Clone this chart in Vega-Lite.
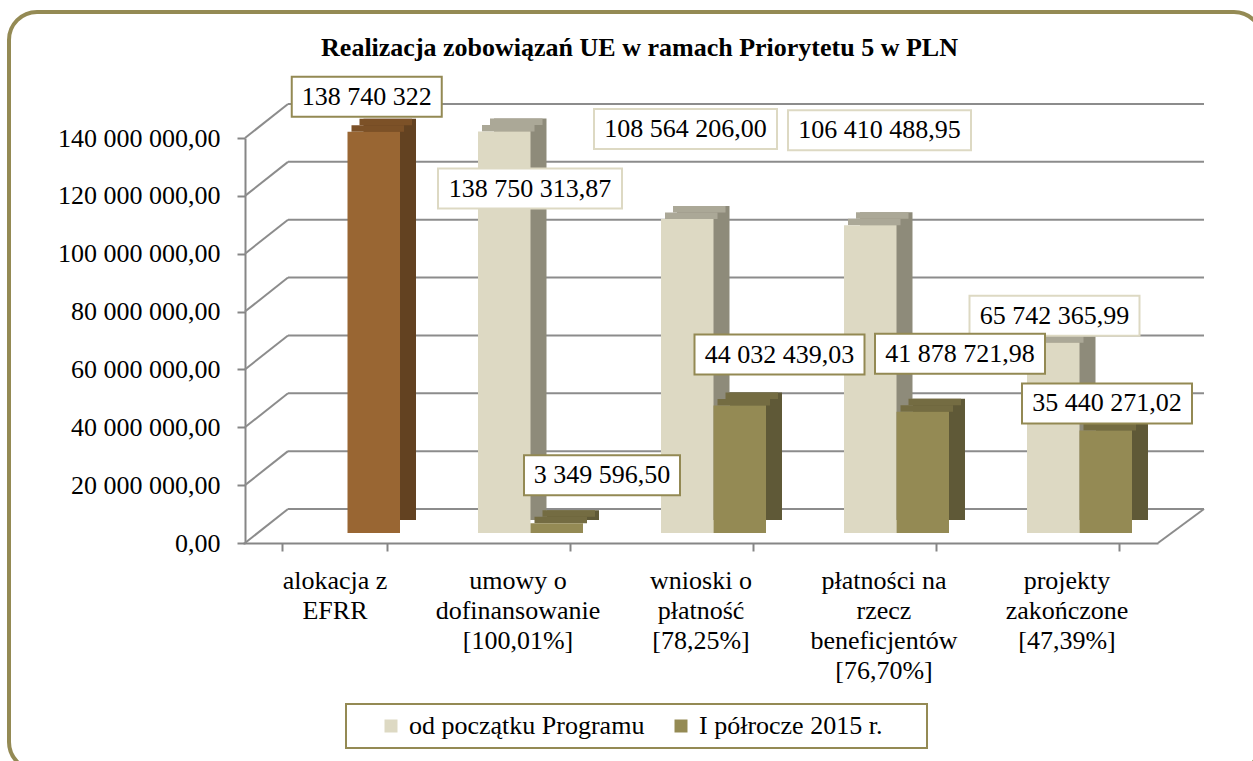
{
  "$schema": "https://vega.github.io/schema/vega-lite/v6.json",
  "width": 1253,
  "height": 758,
  "autosize": {"type": "none"},
  "padding": {"left": 9, "top": 12, "right": -9, "bottom": -9},
  "background": "white",
  "title": {
    "text": "Realizacja zobowiązań UE w ramach Priorytetu 5 w PLN",
    "frame": "group",
    "anchor": "middle",
    "offset": -70,
    "baseline": "alphabetic",
    "dx": 4,
    "font": "Liberation Serif",
    "fontSize": 26,
    "fontWeight": "bold",
    "color": "black"
  },
  "datasets": {
    "siatka": [
      {"v": 0}, {"v": 20000000}, {"v": 40000000}, {"v": 60000000},
      {"v": 80000000}, {"v": 100000000}, {"v": 120000000}, {"v": 140000000}
    ]
  },
  "data": {
    "values": [
      {"kategoria": "alokacja z\nEFRR", "seria": "alokacja z EFRR", "wartosc": 138740322},
      {"kategoria": "umowy o\ndofinansowanie\n[100,01%]", "seria": "od początku Programu", "wartosc": 138750313.87},
      {"kategoria": "umowy o\ndofinansowanie\n[100,01%]", "seria": "I półrocze 2015 r.", "wartosc": 3349596.5},
      {"kategoria": "wnioski o\npłatność\n[78,25%]", "seria": "od początku Programu", "wartosc": 108564206.0},
      {"kategoria": "wnioski o\npłatność\n[78,25%]", "seria": "I półrocze 2015 r.", "wartosc": 44032439.03},
      {"kategoria": "płatności na\nrzecz\nbeneficjentów\n[76,70%]", "seria": "od początku Programu", "wartosc": 106410488.95},
      {"kategoria": "płatności na\nrzecz\nbeneficjentów\n[76,70%]", "seria": "I półrocze 2015 r.", "wartosc": 41878721.98},
      {"kategoria": "projekty\nzakończone\n[47,39%]", "seria": "od początku Programu", "wartosc": 65742365.99},
      {"kategoria": "projekty\nzakończone\n[47,39%]", "seria": "I półrocze 2015 r.", "wartosc": 35440271.02}
    ]
  },
  "layer": [
    {
      "data": {"name": "siatka"},
      "mark": {"type": "rule", "color": "#8c8c8c", "strokeWidth": 2, "xOffset": -59.5, "x2Offset": 124.5, "yOffset": -24},
      "encoding": {
        "x": {
          "datum": "alokacja z\nEFRR", "type": "nominal",
          "scale": {
            "type": "band",
            "domain": ["alokacja z\nEFRR", "umowy o\ndofinansowanie\n[100,01%]", "wnioski o\npłatność\n[78,25%]", "płatności na\nrzecz\nbeneficjentów\n[76,70%]", "projekty\nzakończone\n[47,39%]"],
            "range": [247, 1162],
            "paddingInner": 0.426,
            "paddingOuter": 0.213
          },
          "axis": {
            "title": null, "orient": "bottom", "offset": -227, "position": -13,
            "tickBand": "extent", "tickSize": 8, "tickColor": "#868686", "tickWidth": 2,
            "domainColor": "#868686", "domainWidth": 2,
            "labelExpr": "split(datum.label, '\\n')",
            "labelFont": "Liberation Serif", "labelFontSize": 26, "labelColor": "black",
            "labelPadding": 16, "labelLineHeight": 30, "labelAngle": 0, "labelLimit": 0, "labelOverlap": false
          }
        },
        "x2": {"datum": "projekty\nzakończone\n[47,39%]"},
        "y": {
          "field": "v", "type": "quantitative",
          "scale": {"domain": [0, 140000000], "range": [521, 116], "nice": false, "zero": true},
          "axis": {
            "title": null, "orient": "left", "offset": -236, "position": 10,
            "values": [0, 20000000, 40000000, 60000000, 80000000, 100000000, 120000000, 140000000],
            "format": ",.2f", "grid": false,
            "domainColor": "#868686", "domainWidth": 2,
            "tickColor": "#868686", "tickWidth": 2, "tickSize": 8,
            "labelFont": "Liberation Serif", "labelFontSize": 26, "labelColor": "black",
            "labelPadding": 17, "labelOverlap": false, "labelFlush": false
          }
        }
      }
    },
    {
      "data": {"name": "siatka"},
      "mark": {"type": "rule", "color": "#8c8c8c", "strokeWidth": 2, "xOffset": -102.5, "x2Offset": -59.5, "yOffset": 10, "y2Offset": -24},
      "encoding": {
        "x": {"datum": "alokacja z\nEFRR", "type": "nominal"},
        "x2": {"datum": "alokacja z\nEFRR"},
        "y": {"field": "v", "type": "quantitative"},
        "y2": {"field": "v"}
      }
    },
    {
      "data": {"name": "siatka"},
      "transform": [{"filter": "datum.v === 0"}],
      "mark": {"type": "rule", "color": "#8c8c8c", "strokeWidth": 2, "xOffset": 78.5, "x2Offset": 124.5, "yOffset": 10, "y2Offset": -24},
      "encoding": {
        "x": {"datum": "projekty\nzakończone\n[47,39%]", "type": "nominal"},
        "x2": {"datum": "projekty\nzakończone\n[47,39%]"},
        "y": {"field": "v", "type": "quantitative"},
        "y2": {"field": "v"}
      }
    },
    {
      "transform": [{"filter": {"field": "seria", "equal": "od początku Programu"}}],
      "mark": {"type": "bar", "width": 52.5, "xOffset": -10.25, "yOffset": -13, "y2Offset": -13, "color": "#8e8b7a"},
      "encoding": {
        "x": {"field": "kategoria", "type": "nominal"},
        "y": {"field": "wartosc", "type": "quantitative"},
        "y2": {"datum": 0}
      }
    },
    {
      "transform": [{"filter": {"field": "seria", "oneOf": ["I półrocze 2015 r.", "alokacja z EFRR"]}}],
      "mark": {"type": "bar", "width": 52.5, "xOffset": 42.25, "yOffset": -13, "y2Offset": -13},
      "encoding": {
        "x": {"field": "kategoria", "type": "nominal"},
        "y": {"field": "wartosc", "type": "quantitative"},
        "y2": {"datum": 0},
        "color": {"condition": {"test": "datum.seria === 'alokacja z EFRR'", "value": "#634221"}, "value": "#5f5937"}
      }
    },
    {
      "transform": [{"filter": {"field": "seria", "equal": "od początku Programu"}}],
      "mark": {"type": "bar", "width": 52.5, "xOffset": -14.25, "yOffset": -13, "y2Offset": -6.5, "color": "#aba897"},
      "encoding": {
        "x": {"field": "kategoria", "type": "nominal"},
        "y": {"field": "wartosc", "type": "quantitative"},
        "y2": {"field": "wartosc"}
      }
    },
    {
      "transform": [{"filter": {"field": "seria", "equal": "od początku Programu"}}],
      "mark": {"type": "bar", "width": 52.5, "xOffset": -22.25, "yOffset": -6.5, "y2Offset": 0, "color": "#aba897"},
      "encoding": {
        "x": {"field": "kategoria", "type": "nominal"},
        "y": {"field": "wartosc", "type": "quantitative"},
        "y2": {"field": "wartosc"}
      }
    },
    {
      "transform": [{"filter": {"field": "seria", "oneOf": ["I półrocze 2015 r.", "alokacja z EFRR"]}}],
      "mark": {"type": "bar", "width": 52.5, "xOffset": 38.25, "yOffset": -13, "y2Offset": -6.5},
      "encoding": {
        "x": {"field": "kategoria", "type": "nominal"},
        "y": {"field": "wartosc", "type": "quantitative"},
        "y2": {"field": "wartosc"},
        "color": {"condition": {"test": "datum.seria === 'alokacja z EFRR'", "value": "#7c5127"}, "value": "#746c42"}
      }
    },
    {
      "transform": [{"filter": {"field": "seria", "oneOf": ["I półrocze 2015 r.", "alokacja z EFRR"]}}],
      "mark": {"type": "bar", "width": 52.5, "xOffset": 30.25, "yOffset": -6.5, "y2Offset": 0},
      "encoding": {
        "x": {"field": "kategoria", "type": "nominal"},
        "y": {"field": "wartosc", "type": "quantitative"},
        "y2": {"field": "wartosc"},
        "color": {"condition": {"test": "datum.seria === 'alokacja z EFRR'", "value": "#7c5127"}, "value": "#746c42"}
      }
    },
    {
      "transform": [{"filter": {"field": "seria", "equal": "od początku Programu"}}],
      "mark": {"type": "bar", "width": 52.5, "xOffset": -26.25},
      "encoding": {
        "x": {"field": "kategoria", "type": "nominal"},
        "y": {"field": "wartosc", "type": "quantitative"},
        "y2": {"datum": 0},
        "color": {
          "field": "seria", "type": "nominal",
          "scale": {"domain": ["od początku Programu", "I półrocze 2015 r."], "range": ["#DDD9C3", "#948A54"]},
          "legend": {
            "title": "\u00a0", "titleOrient": "right", "titlePadding": 36,
            "titleFont": "Liberation Serif", "titleFontSize": 26, "titleFontWeight": "normal",
            "orient": "none", "legendX": 337, "legendY": 692,
            "direction": "horizontal", "columns": 2,
            "symbolType": "square", "symbolSize": 169, "symbolStrokeWidth": 0,
            "labelFont": "Liberation Serif", "labelFontSize": 26, "labelColor": "black", "labelLimit": 0,
            "symbolOffset": 23, "labelOffset": 5, "columnPadding": -13, "padding": 9,
            "strokeColor": "#948A54", "fillColor": "white"
          }
        }
      }
    },
    {
      "transform": [{"filter": {"field": "seria", "equal": "I półrocze 2015 r."}}],
      "mark": {"type": "bar", "width": 52.5, "xOffset": 26.25},
      "encoding": {
        "x": {"field": "kategoria", "type": "nominal"},
        "y": {"field": "wartosc", "type": "quantitative"},
        "y2": {"datum": 0},
        "color": {"field": "seria", "type": "nominal"}
      }
    },
    {
      "transform": [{"filter": {"field": "seria", "equal": "alokacja z EFRR"}}],
      "mark": {"type": "bar", "width": 52.5, "xOffset": 26.25, "color": "#996633"},
      "encoding": {
        "x": {"field": "kategoria", "type": "nominal"},
        "y": {"field": "wartosc", "type": "quantitative"},
        "y2": {"datum": 0}
      }
    },
    {
      "transform": [{"filter": {"field": "wartosc", "equal": 138740322}}],
      "mark": {"type": "bar", "width": 150, "xOffset": 19.25, "yOffset": -55, "y2Offset": -15, "fill": "white", "stroke": "#938953", "strokeWidth": 2},
      "encoding": {"x": {"field": "kategoria", "type": "nominal"}, "y": {"field": "wartosc", "type": "quantitative"}, "y2": {"field": "wartosc"}}
    },
    {
      "transform": [{"filter": {"field": "wartosc", "equal": 138740322}}],
      "mark": {"type": "text", "xOffset": 19.25, "yOffset": -35, "font": "Liberation Serif", "fontSize": 26, "baseline": "middle", "align": "center", "color": "black"},
      "encoding": {"x": {"field": "kategoria", "type": "nominal"}, "y": {"field": "wartosc", "type": "quantitative"}, "text": {"field": "wartosc", "type": "quantitative", "format": ",.0f"}}
    },
    {
      "transform": [{"filter": {"field": "wartosc", "equal": 138750313.87}}],
      "mark": {"type": "bar", "width": 184, "xOffset": -0.5, "yOffset": 37, "y2Offset": 77, "fill": "white", "stroke": "#DDD9C3", "strokeWidth": 2},
      "encoding": {"x": {"field": "kategoria", "type": "nominal"}, "y": {"field": "wartosc", "type": "quantitative"}, "y2": {"field": "wartosc"}}
    },
    {
      "transform": [{"filter": {"field": "wartosc", "equal": 138750313.87}}],
      "mark": {"type": "text", "xOffset": -0.5, "yOffset": 57, "font": "Liberation Serif", "fontSize": 26, "baseline": "middle", "align": "center", "color": "black"},
      "encoding": {"x": {"field": "kategoria", "type": "nominal"}, "y": {"field": "wartosc", "type": "quantitative"}, "text": {"field": "wartosc", "type": "quantitative", "format": ",.2f"}}
    },
    {
      "transform": [{"filter": {"field": "wartosc", "equal": 108564206}}],
      "mark": {"type": "bar", "width": 183, "xOffset": -28, "yOffset": -110, "y2Offset": -70, "fill": "white", "stroke": "#DDD9C3", "strokeWidth": 2},
      "encoding": {"x": {"field": "kategoria", "type": "nominal"}, "y": {"field": "wartosc", "type": "quantitative"}, "y2": {"field": "wartosc"}}
    },
    {
      "transform": [{"filter": {"field": "wartosc", "equal": 108564206}}],
      "mark": {"type": "text", "xOffset": -28, "yOffset": -90, "font": "Liberation Serif", "fontSize": 26, "baseline": "middle", "align": "center", "color": "black"},
      "encoding": {"x": {"field": "kategoria", "type": "nominal"}, "y": {"field": "wartosc", "type": "quantitative"}, "text": {"field": "wartosc", "type": "quantitative", "format": ",.2f"}}
    },
    {
      "transform": [{"filter": {"field": "wartosc", "equal": 106410488.95}}],
      "mark": {"type": "bar", "width": 183, "xOffset": -17, "yOffset": -115, "y2Offset": -75, "fill": "white", "stroke": "#DDD9C3", "strokeWidth": 2},
      "encoding": {"x": {"field": "kategoria", "type": "nominal"}, "y": {"field": "wartosc", "type": "quantitative"}, "y2": {"field": "wartosc"}}
    },
    {
      "transform": [{"filter": {"field": "wartosc", "equal": 106410488.95}}],
      "mark": {"type": "text", "xOffset": -17, "yOffset": -95, "font": "Liberation Serif", "fontSize": 26, "baseline": "middle", "align": "center", "color": "black"},
      "encoding": {"x": {"field": "kategoria", "type": "nominal"}, "y": {"field": "wartosc", "type": "quantitative"}, "text": {"field": "wartosc", "type": "quantitative", "format": ",.2f"}}
    },
    {
      "transform": [{"filter": {"field": "wartosc", "equal": 65742365.99}}],
      "mark": {"type": "bar", "width": 170, "xOffset": -25, "yOffset": -47, "y2Offset": -7, "fill": "white", "stroke": "#DDD9C3", "strokeWidth": 2},
      "encoding": {"x": {"field": "kategoria", "type": "nominal"}, "y": {"field": "wartosc", "type": "quantitative"}, "y2": {"field": "wartosc"}}
    },
    {
      "transform": [{"filter": {"field": "wartosc", "equal": 65742365.99}}],
      "mark": {"type": "text", "xOffset": -25, "yOffset": -27, "font": "Liberation Serif", "fontSize": 26, "baseline": "middle", "align": "center", "color": "black"},
      "encoding": {"x": {"field": "kategoria", "type": "nominal"}, "y": {"field": "wartosc", "type": "quantitative"}, "text": {"field": "wartosc", "type": "quantitative", "format": ",.2f"}}
    },
    {
      "transform": [{"filter": {"field": "wartosc", "equal": 3349596.5}}],
      "mark": {"type": "bar", "width": 156, "xOffset": 71.5, "yOffset": -68, "y2Offset": -28, "fill": "white", "stroke": "#938953", "strokeWidth": 2},
      "encoding": {"x": {"field": "kategoria", "type": "nominal"}, "y": {"field": "wartosc", "type": "quantitative"}, "y2": {"field": "wartosc"}}
    },
    {
      "transform": [{"filter": {"field": "wartosc", "equal": 3349596.5}}],
      "mark": {"type": "text", "xOffset": 71.5, "yOffset": -48, "font": "Liberation Serif", "fontSize": 26, "baseline": "middle", "align": "center", "color": "black"},
      "encoding": {"x": {"field": "kategoria", "type": "nominal"}, "y": {"field": "wartosc", "type": "quantitative"}, "text": {"field": "wartosc", "type": "quantitative", "format": ",.2f"}}
    },
    {
      "transform": [{"filter": {"field": "wartosc", "equal": 44032439.03}}],
      "mark": {"type": "bar", "width": 170, "xOffset": 66, "yOffset": -71, "y2Offset": -31, "fill": "white", "stroke": "#938953", "strokeWidth": 2},
      "encoding": {"x": {"field": "kategoria", "type": "nominal"}, "y": {"field": "wartosc", "type": "quantitative"}, "y2": {"field": "wartosc"}}
    },
    {
      "transform": [{"filter": {"field": "wartosc", "equal": 44032439.03}}],
      "mark": {"type": "text", "xOffset": 66, "yOffset": -51, "font": "Liberation Serif", "fontSize": 26, "baseline": "middle", "align": "center", "color": "black"},
      "encoding": {"x": {"field": "kategoria", "type": "nominal"}, "y": {"field": "wartosc", "type": "quantitative"}, "text": {"field": "wartosc", "type": "quantitative", "format": ",.2f"}}
    },
    {
      "transform": [{"filter": {"field": "wartosc", "equal": 41878721.98}}],
      "mark": {"type": "bar", "width": 170, "xOffset": 63.5, "yOffset": -78, "y2Offset": -38, "fill": "white", "stroke": "#938953", "strokeWidth": 2},
      "encoding": {"x": {"field": "kategoria", "type": "nominal"}, "y": {"field": "wartosc", "type": "quantitative"}, "y2": {"field": "wartosc"}}
    },
    {
      "transform": [{"filter": {"field": "wartosc", "equal": 41878721.98}}],
      "mark": {"type": "text", "xOffset": 63.5, "yOffset": -58, "font": "Liberation Serif", "fontSize": 26, "baseline": "middle", "align": "center", "color": "black"},
      "encoding": {"x": {"field": "kategoria", "type": "nominal"}, "y": {"field": "wartosc", "type": "quantitative"}, "text": {"field": "wartosc", "type": "quantitative", "format": ",.2f"}}
    },
    {
      "transform": [{"filter": {"field": "wartosc", "equal": 35440271.02}}],
      "mark": {"type": "bar", "width": 170, "xOffset": 27.5, "yOffset": -47, "y2Offset": -7, "fill": "white", "stroke": "#938953", "strokeWidth": 2},
      "encoding": {"x": {"field": "kategoria", "type": "nominal"}, "y": {"field": "wartosc", "type": "quantitative"}, "y2": {"field": "wartosc"}}
    },
    {
      "transform": [{"filter": {"field": "wartosc", "equal": 35440271.02}}],
      "mark": {"type": "text", "xOffset": 27.5, "yOffset": -27, "font": "Liberation Serif", "fontSize": 26, "baseline": "middle", "align": "center", "color": "black"},
      "encoding": {"x": {"field": "kategoria", "type": "nominal"}, "y": {"field": "wartosc", "type": "quantitative"}, "text": {"field": "wartosc", "type": "quantitative", "format": ",.2f"}}
    }
  ],
  "config": {
    "locale": {"number": {"decimal": ",", "thousands": " ", "grouping": [3], "currency": ["", " zł"]}},
    "view": {"stroke": "#948A54", "strokeWidth": 4, "cornerRadius": 28, "fill": "white"},
    "legend": {"strokeColor": "#948A54", "strokeWidth": 2},
    "font": "Liberation Serif"
  }
}
